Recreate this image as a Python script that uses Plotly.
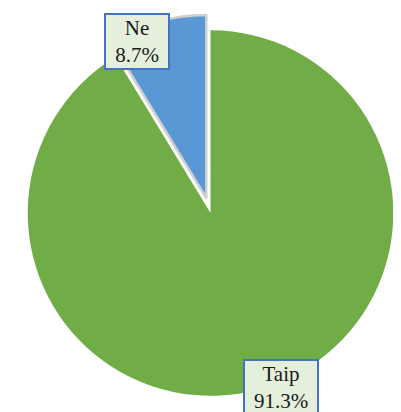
import plotly.graph_objects as go

labels = ["Ne", "Taip"]
values = [8.7, 91.3]
colors = ["#5a97d5", "#70ad47"]
pulls = [0.086, 0.0]
label_texts = ["Ne<br>8.7%", "Taip<br>91.3%"]

fig = go.Figure()
fig.add_trace(go.Pie(
    labels=labels,
    values=values,
    sort=False,
    direction="clockwise",
    rotation=-31.32,
    pull=pulls,
    textinfo="none",
    hoverinfo="label+percent",
    marker=dict(colors=colors,
                line=dict(color=["#cfcfcf", "rgba(0,0,0,0)"], width=[2.5, 0])),
    domain=dict(x=[0.01, 1.0], y=[0.0204, 0.9844]),
    showlegend=False,
))

ann_pos = [(0.3205, 0.918), (0.681, 0.08)]
ann_widths = [58, 68]
for txt, (ax, ay), w in zip(label_texts, ann_pos, ann_widths):
    fig.add_annotation(
        x=ax, y=ay, xref="paper", yref="paper",
        xanchor="center", yanchor="middle",
        text=txt, showarrow=False,
        font=dict(family="Liberation Serif, Times New Roman, serif", size=21, color="#1a1a1a"),
        bgcolor="#e4efdc", bordercolor="#4472c4", borderwidth=2, borderpad=2,
        width=w, height=49,
    )

fig.update_layout(
    width=401, height=412,
    margin=dict(l=0, r=0, t=0, b=0),
    paper_bgcolor="white",
    plot_bgcolor="white",
)
fig.write_html("out.html")
